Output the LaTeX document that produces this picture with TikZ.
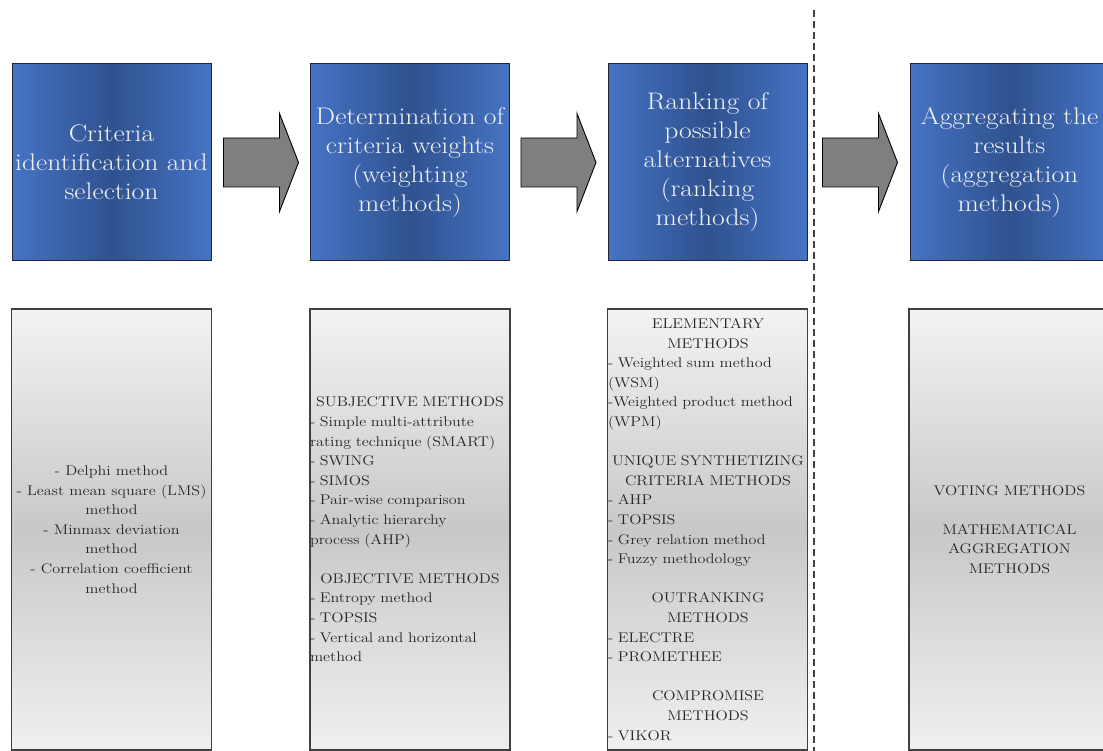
\documentclass[tikz,border=0pt]{standalone}
\usepackage{fontspec}
\setmainfont{Latin Modern Roman}[FakeStretch=1.15]
\usetikzlibrary{calc}
\definecolor{blueedge}{HTML}{4673C4}
\definecolor{bluedark}{HTML}{2F528F}
\definecolor{greytop}{HTML}{F3F3F3}
\definecolor{greymid}{HTML}{C8C8C8}
\definecolor{greybot}{HTML}{F0F0F0}
\definecolor{arrowgrey}{HTML}{7F7F7F}
\definecolor{textdark}{HTML}{262626}
\definecolor{textlight}{HTML}{F0F2F6}
\definecolor{boxline}{HTML}{1E2536}
\newcommand{\hd}[1]{\makebox[200pt][c]{#1}}
\begin{document}
\begin{tikzpicture}[x=1pt,y=-1pt,
  stagebox/.style={rectangle, draw=boxline, line width=1pt,
    left color=blueedge, right color=blueedge, middle color=bluedark,
    minimum width=199pt, minimum height=197pt, inner sep=0pt,
    align=center, text=textlight, font=\fontsize{24}{29}\selectfont},
  listbox/.style={rectangle, draw=black!75, line width=1.2pt,
    top color=greytop, bottom color=greybot, middle color=greymid,
    minimum width=200pt, minimum height=441pt, inner sep=0pt,
    text=textdark, font=\fontsize{14}{19.6}\selectfont},
  blockarrow/.style={draw=black, line width=0.9pt, fill=arrowgrey, line join=miter},
  divider/.style={draw=black!75, line width=1.4pt, dash pattern=on 7pt off 4pt}
]
\useasboundingbox (0,0) rectangle (1103,751);
\fill[white] (0,0) rectangle (1103,751);
\clip (0,0) rectangle (1103,751);

% top stage boxes
\node[stagebox] (s1) at (111.5,162.5) {Criteria\\identification and\\selection};
\node[stagebox] (s2) at (410,162.5) {Determination of\\criteria weights\\(weighting\\methods)};
\node[stagebox] (s3) at (707.5,162.5) {Ranking of\\possible\\alternatives\\(ranking\\methods)};
\node[stagebox] (s4) at (1009.5,162.5) {Aggregating the\\results\\(aggregation\\methods)};

% bottom list boxes
\node[listbox, align=center] (l1) at (111.5,529.5) {- Delphi method\\- Least mean square (LMS)\\method\\- Minmax deviation\\method\\- Correlation coefficient\\method};
\node[listbox, text width=200pt, align=left] (l2) at (410,529.5) {\hd{SUBJECTIVE METHODS}\\- Simple multi-attribute\\rating technique (SMART)\\- SWING\\- SIMOS\\- Pair-wise comparison\\- Analytic hierarchy\\process (AHP)\\[19.6pt]\hd{OBJECTIVE METHODS}\\- Entropy method\\- TOPSIS\\- Vertical and horizontal\\method};
\node[listbox, text width=199pt, align=left] (l3) at (707.5,529.5) {\hd{ELEMENTARY}\\\hd{METHODS}\\- Weighted sum method\\(WSM)\\-Weighted product method\\(WPM)\\[19.6pt]\hd{UNIQUE SYNTHETIZING}\\\hd{CRITERIA METHODS}\\- AHP\\- TOPSIS\\- Grey relation method\\- Fuzzy methodology\\[19.6pt]\hd{OUTRANKING}\\\hd{METHODS}\\- ELECTRE\\- PROMETHEE\\[19.6pt]\hd{COMPROMISE}\\\hd{METHODS}\\- VIKOR};
\node[listbox, minimum width=201pt, align=center] (l4) at (1009.5,529.5) {VOTING METHODS\\[19.6pt]MATHEMATICAL\\AGGREGATION\\METHODS};

% block arrows between stages
\coordinate (a1) at ($(s1.east)+(12,0)$);
\coordinate (a2) at ($(s2.east)+(11,0)$);
\coordinate (a3) at ($(s3.east)+(15,0)$);
\foreach \a in {a1,a2,a3}{
  \draw[blockarrow] (\a) ++(0,-24.5) -- ++(56,0) -- ++(0,-24.5) -- ++(19,49)
    -- ++(-19,49) -- ++(0,-24.5) -- ++(-56,0) -- cycle;
}

% dashed divider
\coordinate (dtop) at (814,10);
\coordinate (dbot) at (814,751);
\draw[divider] (dtop) -- (dbot);
\end{tikzpicture}
\end{document}
